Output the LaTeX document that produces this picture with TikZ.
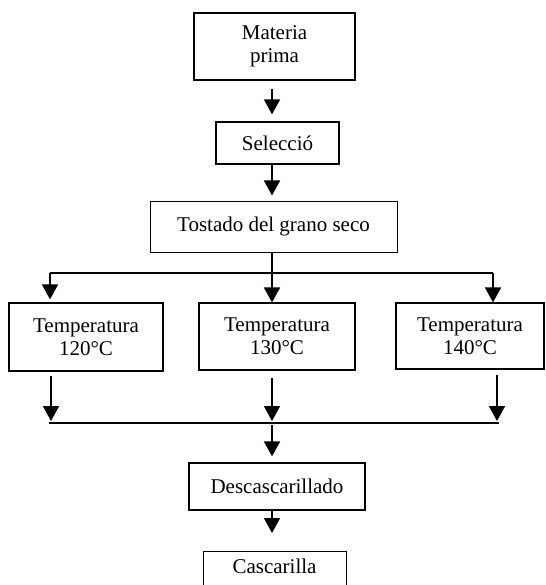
\documentclass[tikz,border=0pt]{standalone}
\usepackage{fontspec}
\setmainfont{Liberation Serif}
\usetikzlibrary{arrows.meta,calc}
\tikzset{
  box/.style={draw, line width=1.2pt, rectangle, inner sep=0pt, align=center,
    font=\fontsize{21}{23}\selectfont},
  arr/.style={line width=1.8pt, -{Triangle[length=15pt,width=16pt]}},
  ln/.style={line width=1.6pt}
}
\begin{document}
\begin{tikzpicture}[x=1pt,y=-1pt]
\useasboundingbox (0,0) rectangle (545,585);
\clip (0,0) rectangle (545,585);
\node[box, minimum width=161pt, minimum height=67pt] (m) at (274.5,46.5) {Materia\\prima};
\node[box, minimum width=123pt, minimum height=42pt] (s) at (277.5,143) {Selecció};
\node[box, minimum width=247pt, minimum height=51pt, line width=1pt] (t) at (273.5,226.5) {\raisebox{3pt}{Tostado del grano seco}};
\node[box, minimum width=154pt, minimum height=68pt] (t1) at (86,337) {Temperatura\\120°C};
\node[box, minimum width=156pt, minimum height=67pt] (t2) at (277,336.5) {Temperatura\\130°C};
\node[box, minimum width=148pt, minimum height=66pt] (t3) at (470,336) {Temperatura\\140°C};
\node[box, minimum width=176pt, minimum height=47pt] (d) at (277,486.5) {Descascarillado};
\node[box, anchor=north, minimum width=143pt, text height=14.5pt, text depth=30pt,
  inner ysep=7pt, line width=1pt] (c) at (274.5,551) {Cascarilla};
\coordinate (bl) at (50,273);
\coordinate (bc) at (272,273);
\coordinate (br) at (493,273);
\coordinate (ll) at (49,423);
\coordinate (lc) at (272,423);
\coordinate (lr) at (499,423);
% top chain
\draw[arr, shorten <=8pt, shorten >=7pt] (m.south -| bc) -- (s.north -| bc);
\draw[arr, shorten >=5pt] (s.south -| bc) -- (t.north -| bc);
% branch
\draw[ln] (bl) -- (br);
\draw[ln] (t.south -| bc) -- (bc);
\draw[arr] (bc) -- (t2.north -| bc);
\draw[arr, shorten >=3pt] (bl) -- (t1.north -| bl);
\draw[arr] (br) -- (t3.north -| br);
% merge
\draw[ln] (ll) -- (lr);
\draw[arr, shorten <=4pt, shorten >=2pt] (t1.south -| 51,0) -- (51,423);
\draw[arr, shorten <=7pt, shorten >=2pt] (t2.south -| lc) -- (lc);
\draw[arr, shorten <=5pt, shorten >=2pt] (t3.south -| 497,0) -- (497,423);
\draw[arr, shorten <=2pt, shorten >=6pt] (lc) -- (d.north -| lc);
\draw[arr, shorten >=18pt] (d.south -| lc) -- (c.north -| lc);
\end{tikzpicture}
\end{document}
